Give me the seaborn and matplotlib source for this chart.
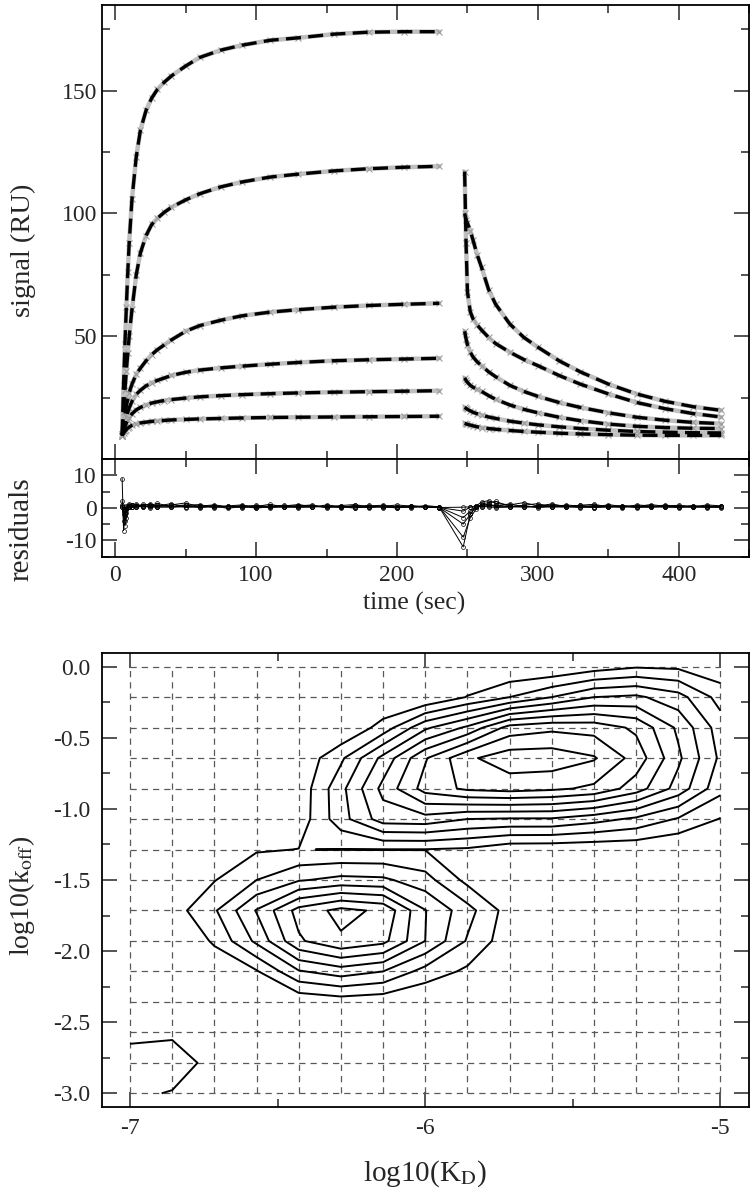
import numpy as np
import pandas as pd
import matplotlib
matplotlib.use("Agg")
import matplotlib.pyplot as plt
from matplotlib.ticker import MultipleLocator, FixedLocator, FormatStrFormatter
import seaborn as sns

sns.set_theme(style="ticks")
plt.rcParams['font.family'] = ['Liberation Serif', 'DejaVu Serif']
plt.rcParams['mathtext.fontset'] = 'stix'
plt.rcParams['axes.unicode_minus'] = False

# --- sensorgram: association phase (time in sec, signal in RU) ---
t_assoc = [5, 6, 7, 8, 9, 10, 12, 15, 18, 22, 26, 30, 35, 40, 50, 60, 75, 90, 110, 130, 155, 180, 205, 230]
a1 = [10, 30, 47, 62, 76, 88, 106, 123, 134, 142, 147, 150.5, 153.5, 156, 160, 163.5, 166.5, 168.5, 170.5, 171.5, 173, 173.8, 174, 174]
a2 = [10, 19, 28, 36, 43, 50, 61, 75, 84, 91, 95.5, 98, 100.5, 102.5, 105.5, 108, 110.8, 112.8, 114.8, 116, 117.3, 118.2, 118.8, 119.2]
a3 = [9.5, 14, 18, 21.5, 24.5, 27, 30.5, 34.5, 37, 40, 42.5, 44.5, 46.5, 48.5, 52, 54.3, 56.5, 58.3, 59.8, 60.8, 61.8, 62.5, 63, 63.4]
a4 = [9.5, 12.5, 15, 17, 19, 20.8, 23.5, 26.3, 28, 29.8, 31, 32, 33, 34, 35.3, 36.2, 37.1, 37.8, 38.6, 39.3, 40, 40.4, 40.7, 41]
a5 = [9.5, 11.5, 13.2, 14.6, 15.8, 16.8, 18.4, 20, 21, 22, 22.8, 23.3, 23.8, 24.2, 24.8, 25.3, 25.8, 26.2, 26.6, 26.9, 27.2, 27.4, 27.6, 27.8]
a6 = [9.5, 10.5, 11.3, 12, 12.6, 13, 13.7, 14.3, 14.7, 15, 15.3, 15.5, 15.7, 15.9, 16.1, 16.3, 16.5, 16.7, 16.9, 17, 17.1, 17.2, 17.3, 17.4]

# --- sensorgram: dissociation phase ---
t_diss = [248, 249, 250, 252, 254, 257, 260, 265, 270, 280, 290, 300, 315, 330, 350, 370, 390, 410, 430]
d1 = [117, 88, 68, 60, 57, 54.5, 52.5, 49.5, 47, 43.5, 40.5, 38, 34, 30.5, 26.5, 23, 20.5, 18.5, 17.1]
d2 = [100, 97.5, 96, 93, 89, 83, 78, 69, 63, 55, 49.5, 45.5, 40, 35.5, 30.5, 26.5, 23.5, 21.3, 19.8]
d3 = [52, 49, 46.5, 43.5, 41.5, 39.5, 38, 35.5, 33.5, 30, 27.5, 25.5, 23, 21, 18.8, 17, 15.8, 14.9, 14.4]
d4 = [33, 32, 31.2, 30, 29.2, 28.3, 27.5, 25.8, 24.3, 22, 20.2, 18.8, 17, 15.6, 14.2, 13.3, 12.8, 12.5, 12.4]
d5 = [21, 20.6, 20.2, 19.6, 19, 18.4, 17.9, 17.1, 16.5, 15.4, 14.6, 13.9, 13.1, 12.4, 11.7, 11.2, 10.9, 10.7, 10.6]
d6 = [14.5, 14.3, 14.1, 13.8, 13.5, 13.1, 12.8, 12.4, 12.1, 11.6, 11.2, 10.9, 10.5, 10.2, 9.9, 9.7, 9.6, 9.6, 9.6]

# --- residuals ---
t_res = [5, 6, 7, 8, 10, 12, 15, 20, 25, 30, 40, 50, 60, 70, 80, 90, 100, 110, 120, 130,
         140, 150, 160, 170, 180, 190, 200, 210, 220, 230, 247, 252, 256, 260, 265, 270,
         280, 290, 300, 310, 320, 330, 340, 350, 360, 370, 380, 390, 400, 410, 420, 430]
r1 = [9, -7, -2, 0.5, 1.2, 0.8, 1, 0.6, 1.3, 0.4, 0.9, 1.5, 0.3, 0.7, -0.2, 0.5, 0.4, 1.1, 0.2, 0.6,
      0.9, 0.1, 0.7, 1.0, 0.3, 0.5, -0.1, 0.6, 0.4, 0.2, -12, -2, 0.5, 1.8, 2.2, 1.4,
      0.9, 1.6, 0.6, 1.2, 0.3, 0.8, 1.1, 0.2, 0.7, 0.4, 1.0, 0.5, 0.8, 0.3, 0.9, 0.6]
r2 = [2, -4, -5.5, -3, 0.2, 1.0, 0.4, 1.2, 0.7, 1.4, 0.2, 0.8, 1.0, 0.1, 0.6, 0.9, -0.2, 0.5, 0.8, 0.3,
      0.2, 0.9, 0.4, -0.1, 0.6, 0.8, 0.3, 0.1, 0.7, 0.3, -9, -3, -0.5, 1.2, 1.6, 2.0,
      0.4, 0.8, 1.3, 0.2, 0.9, 0.5, 0.1, 1.0, 0.4, 0.6, 0.2, 0.9, 0.3, 0.7, 0.1, 0.5]
r3 = [1, -2, -4, -1.5, 0.8, 0.3, 1.1, 0.2, 0.9, 0.6, 1.3, 0.1, 0.5, 0.9, 0.4, 0.2, 0.8, 0.3, 0.6, 1.0,
      0.4, 0.5, 0.1, 0.8, 0.2, 0.4, 0.9, 0.5, 0.2, 0.1, -5, -2, 0.3, 0.9, 1.1, 0.6,
      1.2, 0.3, 0.5, 0.9, 0.6, 0.2, 0.8, 0.4, 0.1, 0.9, 0.6, 0.3, 0.7, 0.2, 0.6, 0.4]
r4 = [0.5, -1, -2.5, -0.5, 0.4, 0.9, 0.2, 0.7, 0.3, 0.8, 0.5, 0.9, 0.2, 0.6, 0.3, 0.7, 0.5, 0.1, 0.4, 0.7,
      0.6, 0.2, 0.5, 0.3, 0.8, 0.1, 0.4, 0.6, 0.3, 0.2, -3, -1, 0.4, 0.7, 0.5, 0.9,
      0.3, 0.6, 0.2, 0.7, 0.4, 0.8, 0.3, 0.5, 0.6, 0.2, 0.5, 0.4, 0.3, 0.6, 0.4, 0.2]
r5 = [0.3, -0.5, -1.5, 0.2, 0.6, 0.2, 0.5, 0.3, 0.6, 0.2, 0.4, 0.3, 0.7, 0.2, 0.5, 0.1, 0.3, 0.6, 0.2, 0.4,
      0.3, 0.5, 0.2, 0.4, 0.1, 0.5, 0.3, 0.2, 0.4, 0.1, -1, 0.2, 0.6, 0.3, 0.8, 0.4,
      0.5, 0.2, 0.6, 0.3, 0.5, 0.1, 0.4, 0.6, 0.3, 0.4, 0.2, 0.5, 0.4, 0.2, 0.3, 0.5]
r6 = [0.2, -0.3, -0.8, 0.1, 0.3, 0.4, 0.2, 0.5, 0.1, 0.3, 0.2, 0.4, 0.1, 0.3, 0.2, 0.4, 0.1, 0.2, 0.3, 0.1,
      0.4, 0.2, 0.3, 0.1, 0.2, 0.3, 0.1, 0.4, 0.2, 0.1, 0.2, 0.3, 0.2, 0.4, 0.3, 0.1,
      0.2, 0.4, 0.1, 0.3, 0.2, 0.3, 0.1, 0.2, 0.4, 0.1, 0.3, 0.2, 0.1, 0.3, 0.2, 0.1]

# --- (KD, koff) distribution on the 15 x 15 grid; rows from log10(koff)=0 down to -3 ---
log_kd = np.linspace(-7, -5, 15)
log_koff = np.linspace(0, -3, 15)
density = [
    [0, 0, 0, 0, 0, 0, 0, 0, 0, 0, 0, 0.5, 0.9, 0.8, 0.3],
    [0, 0, 0, 0, 0, 0, 0, 0, 1.05, 2.0, 3.0, 4.0, 4.2, 3.4, 1.6],
    [0, 0, 0, 0, 0, 0, 1.4, 3.8, 5.2, 7.4, 7.76, 7.6, 6.8, 4.8, 2.5],
    [0, 0, 0, 0, 0.2, 1.8, 4.3, 6.9, 8.8, 9.6, 9.6, 9.1, 7.6, 5.2, 2.8],
    [0, 0, 0, 0, 0.3, 2.7, 5.3, 7.4, 8.2, 8.4, 8.2, 7.8, 6.5, 4.6, 2.3],
    [0, 0, 0, 0, 0.4, 2.6, 4.5, 4.6, 4.0, 3.9, 3.9, 3.4, 2.8, 1.9, 0.95],
    [0, 0, 0.2, 0.89, 1.02, 0.97, 0.97, 0.97, 0.85, 0.3, 0.26, 0.2, 0.2, 0, 0],
    [0, 0, 0.95, 2.0, 2.9, 3.3, 3.2, 2.4, 0.7, 0.1, 0, 0, 0, 0, 0],
    [0, 0.53, 1.87, 4.07, 6.37, 7.3, 6.8, 4.04, 2.39, 0.51, 0.1, 0, 0, 0, 0],
    [0, 0, 1.14, 3.23, 5.85, 6.85, 6.3, 4.0, 1.9, 0.35, 0, 0, 0, 0, 0],
    [0, 0, 0.3, 0.9, 2.9, 3.5, 3.0, 1.6, 0.8, 0.1, 0, 0, 0, 0, 0],
    [0, 0, 0, 0, 0.2, 0.46, 0.3, 0, 0, 0, 0, 0, 0, 0, 0],
    [0.7, 0.8, 0.1, 0, 0, 0, 0, 0, 0, 0, 0, 0, 0, 0, 0],
    [1.5, 1.6, 0.6, 0, 0, 0, 0, 0, 0, 0, 0, 0, 0, 0, 0],
    [1.21, 0.93, 0.2, 0, 0, 0, 0, 0, 0, 0, 0, 0, 0, 0, 0],
]
contour_levels = [1, 2, 3, 4, 5, 6, 7, 8, 9]

# ---- long tables for seaborn ----
rows = []
for k, (a, d) in enumerate(zip([a1, a2, a3, a4, a5, a6], [d1, d2, d3, d4, d5, d6])):
    for t, v in zip(t_assoc, a):
        rows.append((t, v, f"a{k}"))
    for t, v in zip(t_diss, d):
        rows.append((t, v, f"d{k}"))
sens = pd.DataFrame(rows, columns=["time", "signal", "seg"])

res_rows = []
for k, r in enumerate([r1, r2, r3, r4, r5, r6]):
    for t, v in zip(t_res, r):
        res_rows.append((t, v, k))
res = pd.DataFrame(res_rows, columns=["time", "resid", "curve"])

fig = plt.figure(figsize=(7.55, 11.99), dpi=100)
ax1 = fig.add_axes([0.1347, 0.6172, 0.8578, 0.3789])
ax2 = fig.add_axes([0.1347, 0.5357, 0.8578, 0.0815])
ax3 = fig.add_axes([0.1347, 0.0765, 0.8578, 0.3791])

# data (grey crosses) and fit (black dashes)
sns.lineplot(data=sens, x="time", y="signal", units="seg", estimator=None, ax=ax1,
             color="0.75", lw=3.2, marker="x", markersize=4, markeredgecolor="0.6", sort=True)
sns.lineplot(data=sens, x="time", y="signal", units="seg", estimator=None, ax=ax1,
             color="black", lw=2.4, sort=True, linestyle=(0, (4.5, 2.2)))

sns.lineplot(data=res, x="time", y="resid", units="curve", estimator=None, ax=ax2,
             color="black", lw=0.7, marker="o", markersize=2.8, markerfacecolor="none",
             markeredgecolor="black", markeredgewidth=0.5, sort=True)

tick_kw = dict(direction="in", top=True, right=True, labelsize=17, width=1.1)
for ax in (ax1, ax2):
    ax.set_xlim(-9.5, 450)
    ax.xaxis.set_major_locator(MultipleLocator(100))
    ax.xaxis.set_minor_locator(MultipleLocator(50))
    ax.tick_params(which="major", length=11, **tick_kw)
    ax.tick_params(which="minor", length=6, **tick_kw)
    for s in ax.spines.values():
        s.set_linewidth(1.3)
        s.set_color("black")

ax1.set_ylim(0, 185)
ax1.yaxis.set_major_locator(FixedLocator([50, 100, 150]))
ax1.yaxis.set_minor_locator(FixedLocator([25, 75, 125, 175]))
ax1.tick_params(labelbottom=False)
ax1.set_xlabel("")
ax1.set_ylabel("signal (RU)", fontsize=20.5)
ax1.yaxis.set_label_coords(-0.102, 0.46)

ax2.set_ylim(-15, 15)
ax2.yaxis.set_major_locator(MultipleLocator(10))
ax2.yaxis.set_minor_locator(MultipleLocator(5))
ax2.tick_params(axis="x", pad=6)
ax2.set_xlabel("time (sec)", fontsize=18.5)
ax2.xaxis.set_label_coords(0.483, -0.36)
ax2.set_ylabel("residuals", fontsize=21)
ax2.yaxis.set_label_coords(-0.104, 0.28)

# contour panel
ax3.vlines(log_kd, -3, 0, colors="0.35", linestyles=(0, (5, 4)), lw=0.9)
ax3.hlines(log_koff, -7, -5, colors="0.35", linestyles=(0, (5, 4)), lw=0.9)
ax3.contour(log_kd, log_koff, np.array(density), levels=contour_levels, colors="black", linewidths=1.4)
ax3.set_xlim(-7.096, -4.902)
ax3.set_ylim(-3.098, 0.098)
ax3.xaxis.set_major_locator(MultipleLocator(1))
ax3.xaxis.set_minor_locator(MultipleLocator(0.5))
ax3.yaxis.set_major_locator(MultipleLocator(0.5))
ax3.yaxis.set_minor_locator(MultipleLocator(0.25))
ax3.xaxis.set_major_formatter(FormatStrFormatter("%d"))
ax3.yaxis.set_major_formatter(FormatStrFormatter("%.1f"))
ax3.tick_params(which="major", length=11, pad=8, **tick_kw)
ax3.tick_params(which="minor", length=6, **tick_kw)
for s in ax3.spines.values():
    s.set_linewidth(1.3)
    s.set_color("black")
ax3.set_xlabel(r"log10(K$_{\rm D}$)", fontsize=21, labelpad=14)
ax3.set_ylabel(r"log10(k$_{\rm off}$)", fontsize=20)
ax3.yaxis.set_label_coords(-0.1, 0.465)

fig.savefig("out.png", dpi=100)
